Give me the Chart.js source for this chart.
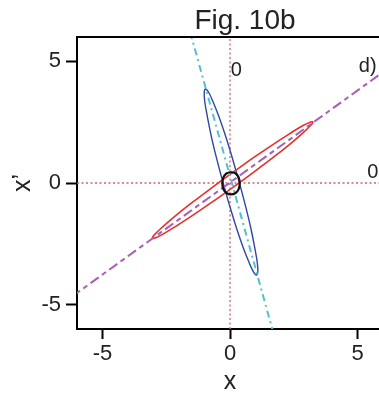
<!DOCTYPE html>
<html>
<head>
<meta charset="utf-8">
<script src="https://cdn.jsdelivr.net/npm/chart.js@4/dist/chart.umd.min.js"></script>
<style>
html,body{margin:0;padding:0;background:#fff;overflow:hidden;}
#wrap{width:390px;height:397px;position:relative;}
</style>
</head>
<body>
<div id="wrap"><canvas id="c"></canvas></div>
<script>
// ---- data ----
const xTickValues = [-5, 0, 5];
const yTickValues = [-5, 0, 5];
const axisRange = [-6, 6];

// red ellipse (x, x')
const redX = [0.10, -0.72, -1.48, -2.13, -2.63, -2.94, -3.05, -2.94, -2.63, -2.13, -1.48, -0.72, 0.10, 0.92, 1.68, 2.33, 2.83, 3.14, 3.25, 3.14, 2.83, 2.33, 1.68, 0.92, 0.10];
const redY = [0.43, -0.20, -0.80, -1.34, -1.79, -2.10, -2.26, -2.26, -2.10, -1.78, -1.34, -0.80, -0.19, 0.44, 1.04, 1.58, 2.03, 2.34, 2.50, 2.50, 2.34, 2.02, 1.58, 1.04, 0.43];

// blue ellipse
const blueX = [0.36, 0.61, 0.82, 0.97, 1.07, 1.09, 1.04, 0.92, 0.75, 0.52, 0.26, -0.01, -0.28, -0.53, -0.74, -0.89, -0.99, -1.01, -0.96, -0.84, -0.67, -0.44, -0.18, 0.09, 0.36];
const blueY = [0.04, -0.95, -1.87, -2.66, -3.27, -3.65, -3.78, -3.65, -3.27, -2.66, -1.87, -0.95, 0.04, 1.03, 1.95, 2.74, 3.35, 3.73, 3.86, 3.73, 3.35, 2.74, 1.95, 1.03, 0.04];

// small black ellipse at origin
const blackX = [0.04, -0.14, -0.26, -0.30, -0.26, -0.14, 0.04, 0.22, 0.34, 0.38, 0.34, 0.22, 0.04];
const blackY = [0.45, 0.39, 0.23, -0.01, -0.25, -0.41, -0.47, -0.41, -0.25, -0.01, 0.23, 0.39, 0.45];

// magenta dashed line (red ellipse axis)
const magentaX = [-6.2, 6.2];
const magentaY = [-4.67, 4.71];

// cyan dash-dot line (blue ellipse axis)
const cyanX = [-1.56, 1.71];
const cyanY = [6.2, -6.2];

// red dotted zero lines
const zeroVX = [0, 0];
const zeroVY = [-6, 6];
const zeroHX = [-6, 6];
const zeroHY = [0, 0];

// texts
const titleText = "Fig. 10b";
const xLabel = "x";
const yLabel = "x\u2019";
const notes = [
  {text: "0", x: 0.25, y: 4.38},
  {text: "0", x: 5.6, y: 0.2},
  {text: "d)", x: 5.4, y: 4.55}
];

function pts(xs, ys){ return xs.map((x,i)=>({x:x, y:ys[i]})); }

const FONT = "'Liberation Sans', Arial, Helvetica, sans-serif";

const decor = {
  id: 'decor',
  afterDraw(chart){
    const ctx = chart.ctx, a = chart.chartArea;
    const xs = chart.scales.x, ys = chart.scales.y;
    ctx.save();
    // top frame line
    ctx.strokeStyle = '#000'; ctx.lineWidth = 2;
    ctx.beginPath(); ctx.moveTo(a.left - 1, a.top); ctx.lineTo(a.right + 1, a.top); ctx.stroke();
    ctx.beginPath(); ctx.moveTo(a.right, a.top); ctx.lineTo(a.right, a.bottom); ctx.stroke();
    // title
    ctx.fillStyle = '#222';
    ctx.font = '28px ' + FONT;
    ctx.textAlign = 'center'; ctx.textBaseline = 'alphabetic';
    ctx.fillText(titleText, 245, 29);
    // notes
    ctx.font = '20px ' + FONT;
    notes.forEach(n => {
      ctx.fillText(n.text, xs.getPixelForValue(n.x), ys.getPixelForValue(n.y));
    });
    ctx.restore();
  }
};

const common = {showLine: true, pointRadius: 0, fill: false, tension: 0};

new Chart(document.getElementById('c'), {
  type: 'scatter',
  data: {
    datasets: [
      Object.assign({}, common, {data: pts(blackX, blackY), borderColor: '#111', borderWidth: 2.2, tension: 0.4, order: 1}),
      Object.assign({}, common, {data: pts(magentaX, magentaY), borderColor: '#ab5bb8', borderWidth: 2, borderDash: [10, 4, 5, 4], order: 2}),
      Object.assign({}, common, {data: pts(cyanX, cyanY), borderColor: '#52bfd6', borderWidth: 2, borderDash: [7, 4, 2, 4], order: 3}),
      Object.assign({}, common, {data: pts(redX, redY), borderColor: '#ee2c28', borderWidth: 1.6, tension: 0.4, order: 4}),
      Object.assign({}, common, {data: pts(blueX, blueY), borderColor: '#2c48a6', borderWidth: 1.4, tension: 0.4, order: 5}),
      Object.assign({}, common, {data: pts(zeroVX, zeroVY), borderColor: '#ec5a5a', borderWidth: 1.3, borderDash: [2, 2.5], order: 6}),
      Object.assign({}, common, {data: pts(zeroHX, zeroHY), borderColor: '#ec5a5a', borderWidth: 1.3, borderDash: [2, 2.5], order: 7})
    ]
  },
  options: {
    responsive: true,
    maintainAspectRatio: false,
    animation: false,
    layout: {padding: {left: 0, right: 7, top: 37, bottom: 0}},
    plugins: {legend: {display: false}, tooltip: {enabled: false}},
    scales: {
      x: {
        type: 'linear', min: axisRange[0], max: axisRange[1],
        afterBuildTicks: s => { s.ticks = xTickValues.map(v => ({value: v})); },
        afterFit: s => { s.height = 68; },
        grid: {drawOnChartArea: false, drawTicks: true, tickLength: 10, tickWidth: 2, tickColor: '#000'},
        border: {display: true, color: '#000', width: 2},
        ticks: {color: '#222', font: {size: 22, family: FONT}, padding: 2, maxRotation: 0},
        title: {display: true, text: xLabel, color: '#222', font: {size: 25, family: FONT}, padding: {top: 0, bottom: 0}}
      },
      y: {
        type: 'linear', min: axisRange[0], max: axisRange[1],
        afterBuildTicks: s => { s.ticks = yTickValues.map(v => ({value: v})); },
        afterFit: s => { s.width = 77; },
        grid: {drawOnChartArea: false, drawTicks: true, tickLength: 11, tickWidth: 2, tickColor: '#000'},
        border: {display: true, color: '#000', width: 2},
        ticks: {color: '#222', font: {size: 22, family: FONT}, padding: 5},
        title: {display: true, text: yLabel, color: '#222', font: {size: 25, family: FONT}, padding: {top: 8, bottom: 0}}
      }
    }
  },
  plugins: [decor]
});
</script>
</body>
</html>
